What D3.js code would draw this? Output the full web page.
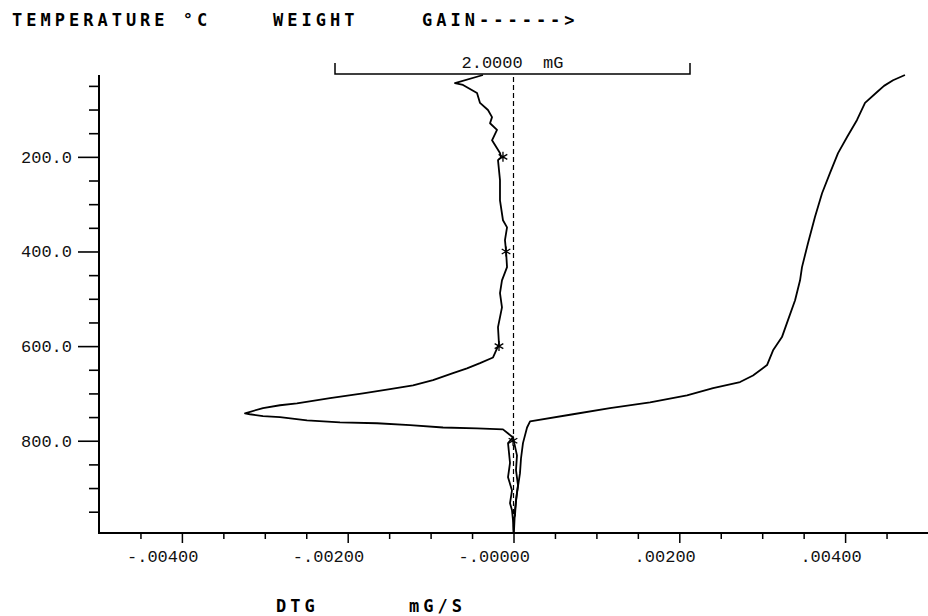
<!DOCTYPE html>
<html><head><meta charset="utf-8">
<script src="https://cdn.jsdelivr.net/npm/d3@7"></script>
<style>body{margin:0;background:#fff}</style>
</head><body>
<svg id="c" width="928" height="616"></svg>
<script>
// DTG curve (temperature °C, rate mG/S)
const dtgTemp = [27,44,48,65,86,101,116,129,143,165,192,201,207,249,292,334,349,376,399,433,461,488,518,560,596,624,636,647,657,672,683,691,700,710,721,725,731,742,744,748,750,757,761,763,767,772,774,776,793,805,847,877,905,932,947,968,995];
const dtgRate = [-0.000368,-0.000706,-0.000609,-0.000440,-0.000404,-0.000308,-0.000259,-0.000283,-0.000199,-0.000259,-0.000163,-0.000151,-0.000187,-0.000163,-0.000163,-0.000127,-0.000078,-0.000103,-0.000090,-0.000078,-0.000139,-0.000163,-0.000139,-0.000187,-0.000175,-0.000247,-0.000404,-0.000561,-0.000730,-0.000971,-0.001212,-0.001490,-0.001815,-0.002213,-0.002612,-0.002817,-0.003022,-0.003239,-0.003179,-0.003022,-0.002817,-0.002491,-0.002093,-0.001647,-0.001248,-0.000850,-0.000440,-0.000127,-0.000006,-0.000066,-0.000042,-0.000066,-0.000018,-0.000042,-0.000018,-0.000006,0];
// second strand of the DTG trace above 800 °C
const dtgLoopTemp = [793,831,862,894,926,958,968];
const dtgLoopRate = [-0.000006,0.000042,0.000030,0.000054,0.000030,0.000018,-0.000006];
// asterisk markers on the DTG trace
const markTemp = [200,400,600,800];
const markRate = [-0.000127,-0.000090,-0.000175,-0.000006];
// TG curve (temperature °C, weight mG on the 2.0000 mG scale bar)
const tgTemp = [27,38,50,63,86,122,158,192,234,277,327,382,433,461,503,545,581,609,640,662,676,689,704,719,731,744,759,772,805,837,869,911,947,994];
const tgWeight = [3.211,3.144,3.093,3.054,2.986,2.941,2.885,2.834,2.789,2.744,2.704,2.665,2.631,2.620,2.592,2.552,2.518,2.468,2.434,2.355,2.282,2.130,1.983,1.775,1.549,1.341,1.099,1.082,1.059,1.048,1.042,1.025,1.014,1.008];
// axes ticks
const yMajor = [200,400,600,800];
const yMinor = [50,100,150,250,300,350,450,500,550,650,700,750,850,900,950];
const xMajor = [-0.004,-0.002,0,0.002,0.004];
const xTickLabels = ["-.00400","-.00200","-.00000",".00200",".00400"];
const xMinor = [-0.0045,-0.0035,-0.003,-0.0025,-0.0015,-0.001,-0.0005,0.0005,0.001,0.0015,0.0025,0.003,0.0035,0.0045];
const scaleBar = [0,2];

const svg = d3.select('#c');
const x = d3.scaleLinear().domain([-0.005,0.005]).range([99,928]);
const y = d3.scaleLinear().domain([27,995]).range([75,533]);
const w = d3.scaleLinear().domain(scaleBar).range([335,690]);

const titleFont = "'DejaVu Sans Mono', monospace";
const labelFont = "'Liberation Mono', 'DejaVu Sans Mono', monospace";

// title
const title = svg.append('g').attr('font-family',titleFont).attr('font-weight','bold')
  .attr('font-size',17).attr('letter-spacing','4px').attr('fill','#000');
title.append('text').attr('x',12).attr('y',26).text('TEMPERATURE °C');
title.append('text').attr('x',273).attr('y',26).text('WEIGHT');
title.append('text').attr('x',422).attr('y',26).text('GAIN------>');

// scale bar
const sb = svg.append('g').attr('stroke','#000').attr('stroke-width',1.5).attr('fill','none');
sb.append('path').attr('d',`M${w(0)},63V74H${w(2)}V63`);
svg.append('text').attr('x',(w(0)+w(2))/2).attr('y',68).attr('text-anchor','middle')
  .attr('font-family',labelFont).attr('font-size',17).attr('fill','#111')
  .attr('xml:space','preserve').text('2.0000  mG');

// zero dashed line
svg.append('line').attr('x1',x(0)).attr('x2',x(0)).attr('y1',77).attr('y2',533)
  .attr('stroke','#000').attr('stroke-width',1.2).attr('stroke-dasharray','5,3');

// Y axis
const gyMin = svg.append('g').attr('transform','translate(99,0)')
  .call(d3.axisLeft(y).tickValues(yMinor).tickSize(10).tickFormat(''));
const gyMaj = svg.append('g').attr('transform','translate(99,0)')
  .call(d3.axisLeft(y).tickValues(yMajor).tickSize(21).tickPadding(6).tickFormat(d=>d.toFixed(1)));
[gyMin,gyMaj].forEach(g=>{g.select('.domain').remove();g.selectAll('line').attr('stroke','#000').attr('stroke-width',1.6);});
gyMaj.selectAll('text').attr('font-family',labelFont).attr('font-size',17).attr('fill','#111');
svg.append('line').attr('x1',99).attr('x2',99).attr('y1',75).attr('y2',534).attr('stroke','#000').attr('stroke-width',2);

// X axis
const gxMin = svg.append('g').attr('transform','translate(0,533)')
  .call(d3.axisBottom(x).tickValues(xMinor).tickSize(6).tickFormat(''));
const gxMaj = svg.append('g').attr('transform','translate(0,533)')
  .call(d3.axisBottom(x).tickValues(xMajor).tickSize(10).tickFormat((d,i)=>xTickLabels[i]));
[gxMin,gxMaj].forEach(g=>{g.select('.domain').remove();g.selectAll('line').attr('stroke','#000').attr('stroke-width',1.5);});
gxMaj.selectAll('text').attr('font-family',labelFont).attr('font-size',17).attr('fill','#111')
  .attr('text-anchor','end').attr('dx',16).attr('y',29).attr('dy',0);
svg.append('line').attr('x1',99).attr('x2',928).attr('y1',533).attr('y2',533).attr('stroke','#000').attr('stroke-width',2);

// axis title
const at = svg.append('g').attr('font-family',titleFont).attr('font-weight','bold')
  .attr('font-size',17).attr('letter-spacing','4px').attr('fill','#000');
at.append('text').attr('x',276).attr('y',612).text('DTG');
at.append('text').attr('x',409).attr('y',612).text('mG/S');

// curves
const line = d3.line().curve(d3.curveLinear);
const dtgPts = dtgTemp.map((t,i)=>[x(dtgRate[i]), y(t)]);
const loopPts = dtgLoopTemp.map((t,i)=>[x(dtgLoopRate[i]), y(t)]);
const tgPts = tgTemp.map((t,i)=>[w(tgWeight[i]), y(t)]);
const cg = svg.append('g').attr('fill','none').attr('stroke','#000').attr('stroke-width',1.8).attr('stroke-linejoin','round');
cg.append('path').attr('d',line(dtgPts));
cg.append('path').attr('d',line(loopPts));
cg.append('path').attr('d',line(tgPts));

// asterisks
const sym = d3.symbol().type(d3.symbolAsterisk).size(70);
svg.append('g').selectAll('path').data(markTemp).join('path')
  .attr('transform',(t,i)=>`translate(${x(markRate[i])},${y(t)})`)
  .attr('d',sym).attr('fill','none').attr('stroke','#000').attr('stroke-width',1.3);
</script>
</body></html>
